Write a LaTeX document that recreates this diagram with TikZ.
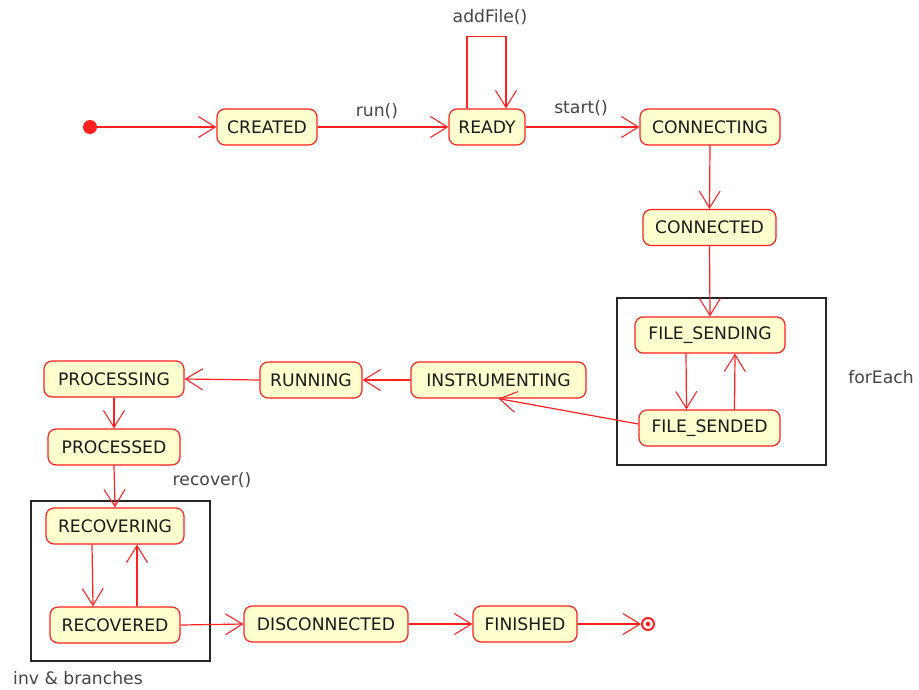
\documentclass[tikz,border=0pt]{standalone}
\usepackage{fontspec}
\setmainfont{DejaVu Sans}
\usetikzlibrary{arrows.meta,calc}
\definecolor{statefill}{HTML}{FEFECE}
\definecolor{statered}{HTML}{FF2020}
\definecolor{labelgray}{HTML}{444444}
\definecolor{textdark}{HTML}{1A1A1A}
\tikzset{
  state/.style={draw=statered, fill=statefill, line width=0.9pt, rounded corners=6pt,
    minimum height=36*0.75pt, inner sep=0pt, text=textdark,
    font=\fontsize{12.9}{14}\selectfont},
  lbl/.style={text=labelgray, inner sep=0pt, font=\fontsize{12.9}{14}\selectfont},
  tr/.style={draw=statered, line width=0.9pt,
    -{Straight Barb[length=17*0.75pt, width=21*0.75pt, line width=0.8pt]}},
  cluster/.style={draw=black!85, line width=0.9pt},
}
\begin{document}
\begin{tikzpicture}[x=0.75pt, y=-0.75pt]
\useasboundingbox (0,0) rectangle (919,689);

% composite boundaries
\draw[cluster] (617,298) rectangle (826,465);
\draw[cluster] (31,501) rectangle (210,661);

% pseudo states
\node[circle, fill=statered, minimum size=14*0.75pt, inner sep=0pt] (init) at (90,127) {};
\node[circle, draw=statered, line width=1.5pt, fill=white, minimum size=12*0.75pt, inner sep=0pt] (final) at (648,624) {};
\fill[statered] (final.center) circle (2.3*0.75pt);

% states
\node[state, minimum width=100*0.75pt] (created) at (267,127) {CREATED};
\node[state, minimum width=76*0.75pt]  (ready)   at (487,127) {READY};
\node[state, minimum width=140*0.75pt] (connecting) at (710,127) {CONNECTING};
\node[state, minimum width=133*0.75pt] (connected)  at (709.5,227.5) {CONNECTED};
\node[state, minimum width=150*0.75pt] (fsending) at (710,335) {FILE\_SENDING};
\node[state, minimum width=141*0.75pt] (fsended)  at (709.5,428) {FILE\_SENDED};
\node[state, minimum width=175*0.75pt] (instr)    at (498.5,380) {INSTRUMENTING};
\node[state, minimum width=102*0.75pt] (running)  at (311,380) {RUNNING};
\node[state, minimum width=140*0.75pt] (processing) at (114,379) {PROCESSING};
\node[state, minimum width=132*0.75pt] (processed)  at (114,447) {PROCESSED};
\node[state, minimum width=138*0.75pt] (recovering) at (115,526) {RECOVERING};
\node[state, minimum width=130*0.75pt] (recovered)  at (115,625) {RECOVERED};
\node[state, minimum width=164*0.75pt] (disconnected) at (326,624) {DISCONNECTED};
\node[state, minimum width=104*0.75pt] (finished) at (525,624) {FINISHED};

% labels
\node[lbl] (lrun) at (377,111) {run()};
\node[lbl] (laddfile) at (490,17) {addFile()};
\node[lbl] (lstart) at (581,108) {start()};
\node[lbl] (lforeach) at (881,377) {forEach};
\node[lbl] (lrecover) at (212,480) {recover()};
\node[lbl] (linv) at (78,678) {inv \& branches};

% transitions
\draw[tr] (init.east) -- (created.west);
\draw[tr] (created.east) -- (ready.west);
\draw[tr] ($(ready.north)+(-20,0)$) -- ++(0,-72) -| ($(ready.north)+(19,0)$);
\draw[tr] (ready.east) -- (connecting.west);
\draw[tr] (connecting.south) -- (connected.north);
\draw[tr] (connected.south) -- (fsending.north);
\draw[tr] ($(fsending.south)+(-24,0)$) -- ($(fsended.north)+(-23,0)$);
\draw[tr] ($(fsended.north)+(25,0)$) -- ($(fsending.south)+(25,0)$);
\draw[tr] ($(fsended.west)+(0,-4)$) -- (instr.south);
\draw[tr] (instr.west) -- (running.east);
\draw[tr] (running.west) -- (processing.east);
\draw[tr] (processing.south) -- (processed.north);
\draw[tr] (processed.south) -- (recovering.north);
\draw[tr] ($(recovering.south)+(-23,0)$) -- ($(recovered.north)+(-22,0)$);
\draw[tr] ($(recovered.north)+(22,0)$) -- ($(recovering.south)+(22,0)$);
\draw[tr] (recovered.east) -- (disconnected.west);
\draw[tr] (disconnected.east) -- (finished.west);
\draw[tr] (finished.east) -- (final.west);
\end{tikzpicture}
\end{document}
